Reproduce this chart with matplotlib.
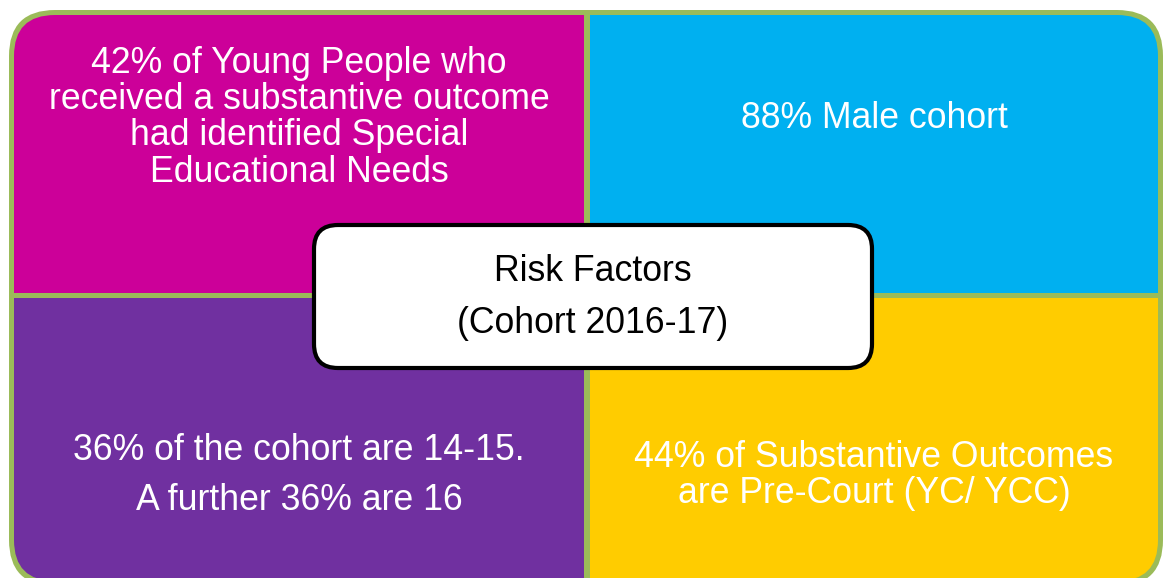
"""Risk factors quadrant diagram (cohort 2016-17)."""
import matplotlib
matplotlib.use("Agg")
import matplotlib.pyplot as plt
from matplotlib.patches import FancyBboxPatch, Rectangle

W, H = 1165, 578

# content
quadrant_colors = ["#CC0099", "#00B0F0", "#7030A0", "#FFCC00"]
quadrant_lines = [
    ["42% of Young People who", "received a substantive outcome",
     "had identified Special", "Educational Needs"],
    ["88% Male cohort"],
    ["36% of the cohort are 14-15.", "A further 36% are 16"],
    ["44% of Substantive Outcomes", "are Pre-Court (YC/ YCC)"],
]
# baseline of each line, in pixels from the top
quadrant_baselines = [
    [73, 109, 145, 182],
    [128],
    [460, 510],
    [467, 503],
]
center_lines = ["Risk Factors", "(Cohort 2016-17)"]
center_baselines = [281, 333]

FRAME = "#9BBB59"
FONT = "Liberation Sans"
FS = 25.7

fig = plt.figure(figsize=(W / 100, H / 100), dpi=100)
ax = fig.add_axes([0, 0, 1, 1])
ax.set_xlim(0, W)
ax.set_ylim(H, 0)
ax.axis("off")

# outer green frame (bottom edge runs just past the picture)
x0, y0, x1, y1 = 9, 10, 1163, 586
outer = FancyBboxPatch((x0, y0), x1 - x0, y1 - y0,
                       boxstyle="round,pad=0,rounding_size=46",
                       facecolor=FRAME, edgecolor="none")
ax.add_patch(outer)
b = 5
inner = FancyBboxPatch((x0 + b, y0 + b), x1 - x0 - 2 * b, y1 - y0 - 2 * b,
                       boxstyle="round,pad=0,rounding_size=41",
                       facecolor="none", edgecolor="none")
ax.add_patch(inner)

# quadrants, separated by green gaps
vx0, vx1 = 584, 590
hy0, hy1 = 293, 298
cells = [
    (0, 0, vx0, hy0),
    (vx1, 0, W, hy0),
    (0, hy1, vx0, H),
    (vx1, hy1, W, H),
]
for (cx0, cy0, cx1, cy1), col, lines, bases in zip(
        cells, quadrant_colors, quadrant_lines, quadrant_baselines):
    r = Rectangle((cx0, cy0), cx1 - cx0, cy1 - cy0, facecolor=col, edgecolor="none")
    ax.add_patch(r)
    r.set_clip_path(inner)
    xc = (max(cx0, x0 + b) + min(cx1, x1 - b)) / 2
    for line, yb in zip(lines, bases):
        ax.text(xc, yb, line, ha="center", va="baseline", color="white",
                fontsize=FS, family=FONT)

# centre label
box = FancyBboxPatch((314, 225), 872 - 314, 368 - 225,
                     boxstyle="round,pad=0,rounding_size=24",
                     facecolor="white", edgecolor="black", linewidth=3)
ax.add_patch(box)
for line, yb in zip(center_lines, center_baselines):
    ax.text(593, yb, line, ha="center", va="baseline", color="black",
            fontsize=FS, family=FONT)

fig.savefig("out.png", dpi=100)
